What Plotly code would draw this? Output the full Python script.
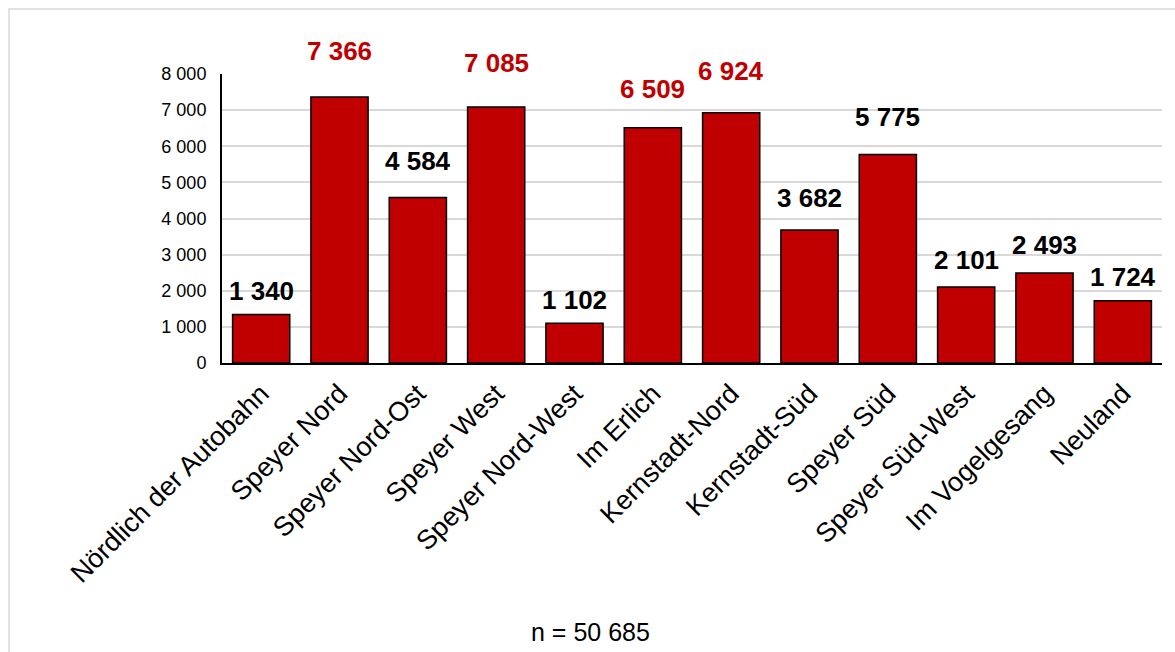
import plotly.graph_objects as go

# Einwohner je Stadtteil
districts = [
    "Nördlich der Autobahn", "Speyer Nord", "Speyer Nord-Ost", "Speyer West",
    "Speyer Nord-West", "Im Erlich", "Kernstadt-Nord", "Kernstadt-Süd",
    "Speyer Süd", "Speyer Süd-West", "Im Vogelgesang", "Neuland",
]
residents = [1340, 7366, 4584, 7085, 1102, 6509, 6924, 3682, 5775, 2101, 2493, 1724]
total_n = 50685

y_ticks = [0, 1000, 2000, 3000, 4000, 5000, 6000, 7000, 8000]

# Pixel lift of each value label above its bar top
label_lift = [24, 46, 36, 44, 23, 39, 42, 32, 37, 27, 28, 24]

BAR_RED = "#c00000"
FONT = "Liberation Sans, Arial, sans-serif"


def fmt(v):
    return f"{v:,}".replace(",", " ")


fig = go.Figure(
    go.Bar(
        x=districts,
        y=residents,
        marker=dict(color=BAR_RED, line=dict(color="black", width=1.5)),
        hoverinfo="x+y",
    )
)

for name, val, lift in zip(districts, residents, label_lift):
    fig.add_annotation(
        x=name, y=val, xref="x", yref="y",
        text=f"<b>{fmt(val)}</b>",
        showarrow=False, yanchor="middle", yshift=lift,
        font=dict(family=FONT, size=26, color=BAR_RED if val > 6000 else "black"),
    )

fig.add_annotation(
    x=0.392, y=-0.93, xref="paper", yref="paper",
    text=f"n = {fmt(total_n)}", showarrow=False,
    xanchor="center", yanchor="middle",
    font=dict(family=FONT, size=25, color="black"),
)

# light frame around the whole chart
fig.add_shape(
    type="rect", xref="paper", yref="paper",
    x0=-0.2266, x1=1.03, y0=-1.05, y1=1.225,
    line=dict(color="#d9d9d9", width=1.5), fillcolor="rgba(0,0,0,0)",
    layer="below",
)

fig.update_layout(
    width=1175, height=652,
    margin=dict(l=222, r=13, t=74, b=289),
    paper_bgcolor="white", plot_bgcolor="white",
    bargap=0.27, showlegend=False,
    font=dict(family=FONT, color="black"),
)
fig.update_xaxes(
    showline=True, linecolor="black", linewidth=2,
    tickangle=-45, tickfont=dict(family=FONT, size=27, color="black"),
    ticks="", showgrid=False, ticklabelstandoff=2,
)
fig.update_yaxes(
    range=[0, 8000], tickvals=y_ticks, ticktext=[fmt(t) for t in y_ticks],
    showline=True, linecolor="black", linewidth=2,
    showgrid=True, gridcolor="#d9d9d9", gridwidth=1.5,
    ticks="", ticklabelstandoff=10,
    tickfont=dict(family=FONT, size=18, color="black"),
    zeroline=False,
)

fig.write_html("out.html")
